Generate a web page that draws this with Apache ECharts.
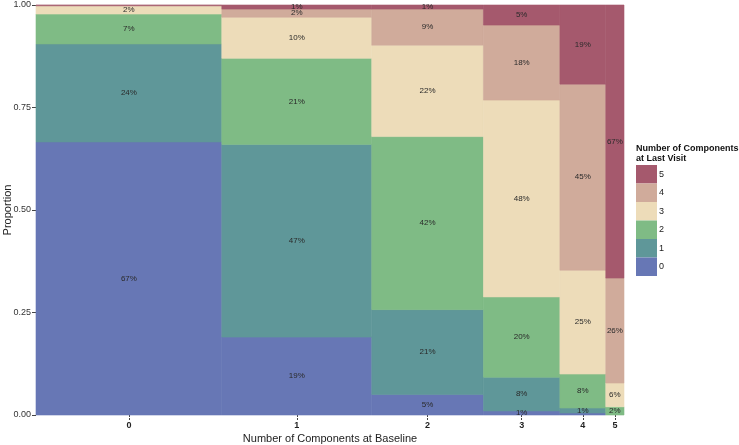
<!DOCTYPE html>
<html>
<head>
<meta charset="utf-8">
<script src="https://cdn.jsdelivr.net/npm/echarts@6/dist/echarts.min.js"></script>
<style>html,body{margin:0;padding:0;background:#fff}#c{width:739px;height:445px}</style>
</head>
<body>
<div id="c"></div>
<script>
// Baseline categories (columns) and their relative widths
const categories = ['0', '1', '2', '3', '4', '5'];
const colWidths = [0.316, 0.255, 0.190, 0.130, 0.078, 0.031];
// Last-visit levels (stack order bottom -> top)
const levels = ['0', '1', '2', '3', '4', '5'];
const level0 = [0.666, 0.19, 0.05, 0.01, 0.005, 0];
const level1 = [0.239, 0.47, 0.207, 0.082, 0.012, 0];
const level2 = [0.073, 0.21, 0.422, 0.196, 0.083, 0.02];
const level3 = [0.019, 0.10, 0.223, 0.48, 0.253, 0.058];
const level4 = [0.002, 0.02, 0.088, 0.183, 0.454, 0.256];
const level5 = [0.001, 0.01, 0.01, 0.049, 0.193, 0.666];
const yTicks = [0, 0.25, 0.5, 0.75, 1];
const colors = ['#6777b5', '#5f9799', '#7fbb85', '#eddcb9', '#d0ab9b', '#a5596d'];

const levelData = [level0, level1, level2, level3, level4, level5];
const colStart = [];
let acc = 0;
colWidths.forEach(w => { colStart.push(acc); acc += w; });
const colCenters = colWidths.map((w, i) => colStart[i] + w / 2);

const series = levels.map((lv, li) => {
  const data = categories.map((c, ci) => {
    let y0 = 0;
    for (let k = 0; k < li; k++) y0 += levelData[k][ci];
    const v = levelData[li][ci];
    return [colStart[ci], colStart[ci] + colWidths[ci], y0, y0 + v, v];
  });
  return {
    name: lv,
    type: 'custom',
    itemStyle: { color: colors[li] },
    encode: { x: [0, 1], y: [2, 3] },
    data: data,
    renderItem: function (params, api) {
      const x0 = api.value(0), x1 = api.value(1), y0 = api.value(2), y1 = api.value(3), v = api.value(4);
      if (v <= 0) return null;
      const p0 = api.coord([x0, y0]);
      const p1 = api.coord([x1, y1]);
      const children = [{
        type: 'rect',
        shape: { x: p0[0], y: p1[1], width: p1[0] - p0[0], height: p0[1] - p1[1] },
        style: { fill: colors[li], stroke: colors[li], lineWidth: 0.6 }
      }];
      if (v >= 0.0095) {
        children.push({
          type: 'text',
          style: {
            text: Math.round(v * 100) + '%',
            x: (p0[0] + p1[0]) / 2, y: (p0[1] + p1[1]) / 2,
            align: 'center', verticalAlign: 'middle',
            fontSize: 8, fontFamily: 'Liberation Sans, Arial, sans-serif', fill: '#2a2a2a'
          },
          z2: 10
        });
      }
      return { type: 'group', children: children };
    }
  };
});

const chart = echarts.init(document.getElementById('c'));
chart.setOption({
  animation: false,
  textStyle: { fontFamily: 'Liberation Sans, Arial, sans-serif' },
  title: {
    text: 'Number of Components\nat Last Visit',
    left: 636, top: 144, padding: 0,
    textStyle: { fontSize: 9, fontWeight: 'bold', color: '#111', lineHeight: 10 }
  },
  legend: {
    data: levels.slice().reverse(),
    orient: 'vertical',
    left: 636, top: 165, padding: 0,
    itemWidth: 21, itemHeight: 18.5, itemGap: 0,
    icon: 'rect',
    textStyle: { fontSize: 9, color: '#222', padding: [0, 0, 0, -3] },
    selectedMode: false
  },
  grid: { left: 36, right: 115, top: 5, bottom: 30, outerBoundsMode: 'none', containLabel: false },
  xAxis: {
    type: 'value', min: 0, max: 1,
    name: 'Number of Components at Baseline',
    nameLocation: 'middle', nameGap: 18, nameMoveOverlap: false,
    nameTextStyle: { fontSize: 11, color: '#222' },
    axisLine: { show: false },
    splitLine: { show: false },
    axisTick: { show: true, length: 5, customValues: colCenters, lineStyle: { color: '#444', type: [2, 1] } },
    axisLabel: {
      customValues: colCenters, fontSize: 9, fontWeight: 'bold', color: '#222', margin: 6,
      formatter: function (v) {
        let best = 0;
        colCenters.forEach((c, i) => { if (Math.abs(c - v) < Math.abs(colCenters[best] - v)) best = i; });
        return categories[best];
      }
    }
  },
  yAxis: {
    type: 'value', min: 0, max: 1, interval: 0.25,
    name: 'Proportion', nameLocation: 'middle', nameGap: 23, nameMoveOverlap: false,
    nameTextStyle: { fontSize: 11, color: '#222' },
    axisLine: { show: false },
    splitLine: { show: false },
    axisTick: { show: true, length: 4, lineStyle: { color: '#444' } },
    axisLabel: { fontSize: 9, color: '#333', margin: 5, formatter: v => v.toFixed(2) }
  },
  series: series
});
</script>
</body>
</html>
